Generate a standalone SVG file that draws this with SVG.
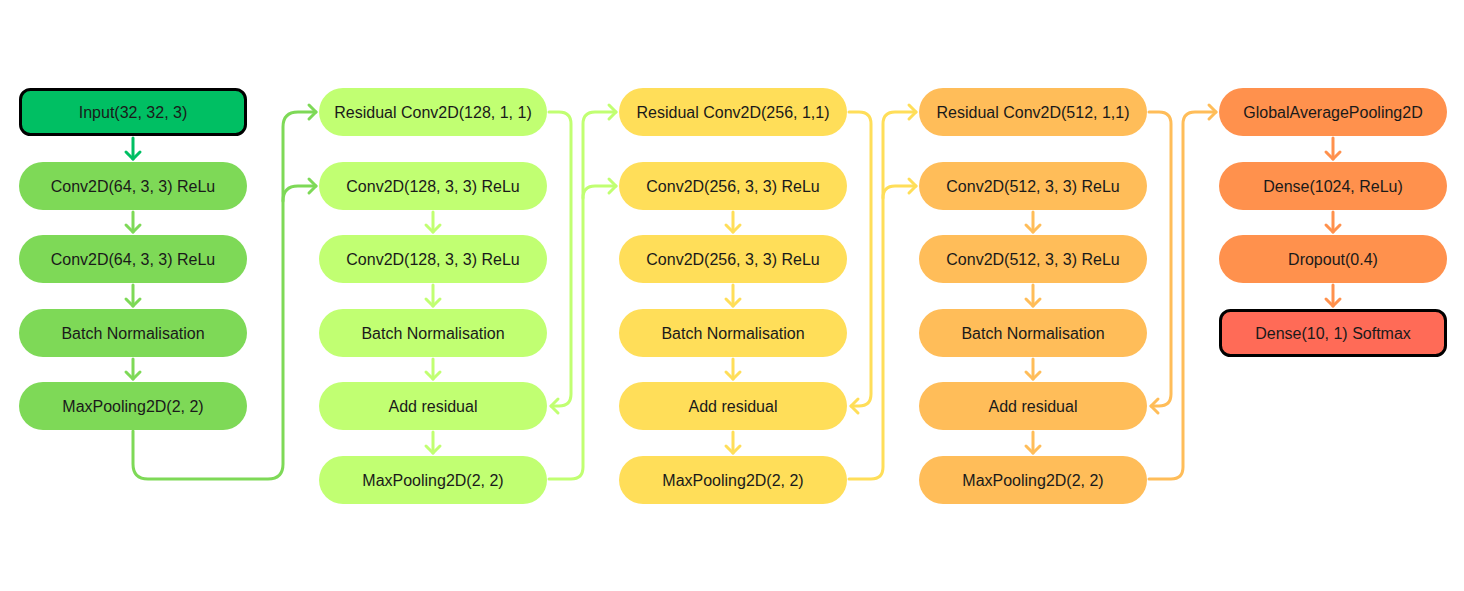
<svg xmlns="http://www.w3.org/2000/svg" width="1464" height="591" viewBox="0 0 1464 591">
<style>
text{font-family:"Liberation Sans",Arial,sans-serif;font-size:16px;fill:#1a1a1a;text-anchor:middle;dominant-baseline:central}
.c{fill:none;stroke-width:3;stroke-linecap:round;stroke-linejoin:round}
.g0{stroke:#00bf63}.g1{stroke:#7ed957}.g2{stroke:#c1ff72}.g3{stroke:#ffde59}.g4{stroke:#ffbd59}.g5{stroke:#ff914d}
.n1{fill:#7ed957}.n2{fill:#c1ff72}.n3{fill:#ffde59}.n4{fill:#ffbd59}.n5{fill:#ff914d}
</style>
<defs>
<marker id="m0" markerWidth="20" markerHeight="20" refX="10" refY="10" markerUnits="userSpaceOnUse" orient="auto"><path d="M3,3 L10,10 L3,17" fill="none" stroke="#00bf63" stroke-width="3" stroke-linecap="round" stroke-linejoin="round"/></marker>
<marker id="m1" markerWidth="20" markerHeight="20" refX="10" refY="10" markerUnits="userSpaceOnUse" orient="auto"><path d="M3,3 L10,10 L3,17" fill="none" stroke="#7ed957" stroke-width="3" stroke-linecap="round" stroke-linejoin="round"/></marker>
<marker id="m2" markerWidth="20" markerHeight="20" refX="10" refY="10" markerUnits="userSpaceOnUse" orient="auto"><path d="M3,3 L10,10 L3,17" fill="none" stroke="#c1ff72" stroke-width="3" stroke-linecap="round" stroke-linejoin="round"/></marker>
<marker id="m3" markerWidth="20" markerHeight="20" refX="10" refY="10" markerUnits="userSpaceOnUse" orient="auto"><path d="M3,3 L10,10 L3,17" fill="none" stroke="#ffde59" stroke-width="3" stroke-linecap="round" stroke-linejoin="round"/></marker>
<marker id="m4" markerWidth="20" markerHeight="20" refX="10" refY="10" markerUnits="userSpaceOnUse" orient="auto"><path d="M3,3 L10,10 L3,17" fill="none" stroke="#ffbd59" stroke-width="3" stroke-linecap="round" stroke-linejoin="round"/></marker>
<marker id="m5" markerWidth="20" markerHeight="20" refX="10" refY="10" markerUnits="userSpaceOnUse" orient="auto"><path d="M3,3 L10,10 L3,17" fill="none" stroke="#ff914d" stroke-width="3" stroke-linecap="round" stroke-linejoin="round"/></marker>
</defs>
<rect width="1464" height="591" fill="#ffffff"/>

<g id="connectors">
  <!-- column 1 -->
  <path class="c g0" d="M133,138 V159" marker-end="url(#m0)"/>
  <path class="c g1" d="M133,212 V232" marker-end="url(#m1)"/>
  <path class="c g1" d="M133,285 V306" marker-end="url(#m1)"/>
  <path class="c g1" d="M133,359 V379" marker-end="url(#m1)"/>
  <path class="c g1" d="M133,431 V464 Q133,479 148,479 H268 Q283,479 283,464 V127 Q283,112 298,112 H316" marker-end="url(#m1)"/>
  <path class="c g1" d="M283,201 Q283,186 298,186 H316" marker-end="url(#m1)"/>
  <!-- column 2 -->
  <path class="c g2" d="M433,212 V232" marker-end="url(#m2)"/>
  <path class="c g2" d="M433,285 V306" marker-end="url(#m2)"/>
  <path class="c g2" d="M433,359 V379" marker-end="url(#m2)"/>
  <path class="c g2" d="M433,432 V453" marker-end="url(#m2)"/>
  <path class="c g2" d="M549,112 H559 Q571,112 571,124 V394 Q571,406 559,406 H551" marker-end="url(#m2)"/>
  <path class="c g2" d="M549,479 H571 Q583,479 583,467 V124 Q583,112 595,112 H616" marker-end="url(#m2)"/>
  <path class="c g2" d="M583,198 Q583,186 595,186 H616" marker-end="url(#m2)"/>
  <!-- column 3 -->
  <path class="c g3" d="M733,212 V232" marker-end="url(#m3)"/>
  <path class="c g3" d="M733,285 V306" marker-end="url(#m3)"/>
  <path class="c g3" d="M733,359 V379" marker-end="url(#m3)"/>
  <path class="c g3" d="M733,432 V453" marker-end="url(#m3)"/>
  <path class="c g3" d="M849,112 H859 Q871,112 871,124 V394 Q871,406 859,406 H851" marker-end="url(#m3)"/>
  <path class="c g3" d="M849,479 H871 Q883,479 883,467 V124 Q883,112 895,112 H916" marker-end="url(#m3)"/>
  <path class="c g3" d="M883,198 Q883,186 895,186 H916" marker-end="url(#m3)"/>
  <!-- column 4 -->
  <path class="c g4" d="M1033,212 V232" marker-end="url(#m4)"/>
  <path class="c g4" d="M1033,285 V306" marker-end="url(#m4)"/>
  <path class="c g4" d="M1033,359 V379" marker-end="url(#m4)"/>
  <path class="c g4" d="M1033,432 V453" marker-end="url(#m4)"/>
  <path class="c g4" d="M1149,112 H1159 Q1171,112 1171,124 V394 Q1171,406 1159,406 H1151" marker-end="url(#m4)"/>
  <path class="c g4" d="M1149,479 H1171 Q1183,479 1183,467 V124 Q1183,112 1195,112 H1216" marker-end="url(#m4)"/>
  <!-- column 5 -->
  <path class="c g5" d="M1333,138 V159" marker-end="url(#m5)"/>
  <path class="c g5" d="M1333,212 V232" marker-end="url(#m5)"/>
  <path class="c g5" d="M1333,285 V306" marker-end="url(#m5)"/>
</g>

<!-- Column 1 -->
<g id="input"><rect x="20.5" y="89.5" width="225" height="45" rx="10" fill="#00bf63" stroke="#000" stroke-width="3"/><text x="133" y="112">Input(32, 32, 3)</text></g>
<g id="c1_conv1"><rect class="n1" x="19" y="162" width="228" height="48" rx="24"/><text x="133" y="186">Conv2D(64, 3, 3) ReLu</text></g>
<g id="c1_conv2"><rect class="n1" x="19" y="235" width="228" height="48" rx="24"/><text x="133" y="259">Conv2D(64, 3, 3) ReLu</text></g>
<g id="c1_bn"><rect class="n1" x="19" y="309" width="228" height="48" rx="24"/><text x="133" y="333">Batch Normalisation</text></g>
<g id="c1_pool"><rect class="n1" x="19" y="382" width="228" height="48" rx="24"/><text x="133" y="406">MaxPooling2D(2, 2)</text></g>

<!-- Column 2 -->
<g id="c2_res"><rect class="n2" x="319" y="88" width="228" height="48" rx="24"/><text x="433" y="112">Residual Conv2D(128, 1, 1)</text></g>
<g id="c2_conv1"><rect class="n2" x="319" y="162" width="228" height="48" rx="24"/><text x="433" y="186">Conv2D(128, 3, 3) ReLu</text></g>
<g id="c2_conv2"><rect class="n2" x="319" y="235" width="228" height="48" rx="24"/><text x="433" y="259">Conv2D(128, 3, 3) ReLu</text></g>
<g id="c2_bn"><rect class="n2" x="319" y="309" width="228" height="48" rx="24"/><text x="433" y="333">Batch Normalisation</text></g>
<g id="c2_add"><rect class="n2" x="319" y="382" width="228" height="48" rx="24"/><text x="433" y="406">Add residual</text></g>
<g id="c2_pool"><rect class="n2" x="319" y="456" width="228" height="48" rx="24"/><text x="433" y="480">MaxPooling2D(2, 2)</text></g>

<!-- Column 3 -->
<g id="c3_res"><rect class="n3" x="619" y="88" width="228" height="48" rx="24"/><text x="733" y="112">Residual Conv2D(256, 1,1)</text></g>
<g id="c3_conv1"><rect class="n3" x="619" y="162" width="228" height="48" rx="24"/><text x="733" y="186">Conv2D(256, 3, 3) ReLu</text></g>
<g id="c3_conv2"><rect class="n3" x="619" y="235" width="228" height="48" rx="24"/><text x="733" y="259">Conv2D(256, 3, 3) ReLu</text></g>
<g id="c3_bn"><rect class="n3" x="619" y="309" width="228" height="48" rx="24"/><text x="733" y="333">Batch Normalisation</text></g>
<g id="c3_add"><rect class="n3" x="619" y="382" width="228" height="48" rx="24"/><text x="733" y="406">Add residual</text></g>
<g id="c3_pool"><rect class="n3" x="619" y="456" width="228" height="48" rx="24"/><text x="733" y="480">MaxPooling2D(2, 2)</text></g>

<!-- Column 4 -->
<g id="c4_res"><rect class="n4" x="919" y="88" width="228" height="48" rx="24"/><text x="1033" y="112">Residual Conv2D(512, 1,1)</text></g>
<g id="c4_conv1"><rect class="n4" x="919" y="162" width="228" height="48" rx="24"/><text x="1033" y="186">Conv2D(512, 3, 3) ReLu</text></g>
<g id="c4_conv2"><rect class="n4" x="919" y="235" width="228" height="48" rx="24"/><text x="1033" y="259">Conv2D(512, 3, 3) ReLu</text></g>
<g id="c4_bn"><rect class="n4" x="919" y="309" width="228" height="48" rx="24"/><text x="1033" y="333">Batch Normalisation</text></g>
<g id="c4_add"><rect class="n4" x="919" y="382" width="228" height="48" rx="24"/><text x="1033" y="406">Add residual</text></g>
<g id="c4_pool"><rect class="n4" x="919" y="456" width="228" height="48" rx="24"/><text x="1033" y="480">MaxPooling2D(2, 2)</text></g>

<!-- Column 5 -->
<g id="c5_gap"><rect class="n5" x="1219" y="88" width="228" height="48" rx="24"/><text x="1333" y="112">GlobalAveragePooling2D</text></g>
<g id="c5_dense"><rect class="n5" x="1219" y="162" width="228" height="48" rx="24"/><text x="1333" y="186">Dense(1024, ReLu)</text></g>
<g id="c5_drop"><rect class="n5" x="1219" y="235" width="228" height="48" rx="24"/><text x="1333" y="259">Dropout(0.4)</text></g>
<g id="c5_out"><rect x="1220.5" y="310.5" width="225" height="45" rx="10" fill="#ff6b57" stroke="#000" stroke-width="3"/><text x="1333" y="333">Dense(10, 1) Softmax</text></g>
</svg>
